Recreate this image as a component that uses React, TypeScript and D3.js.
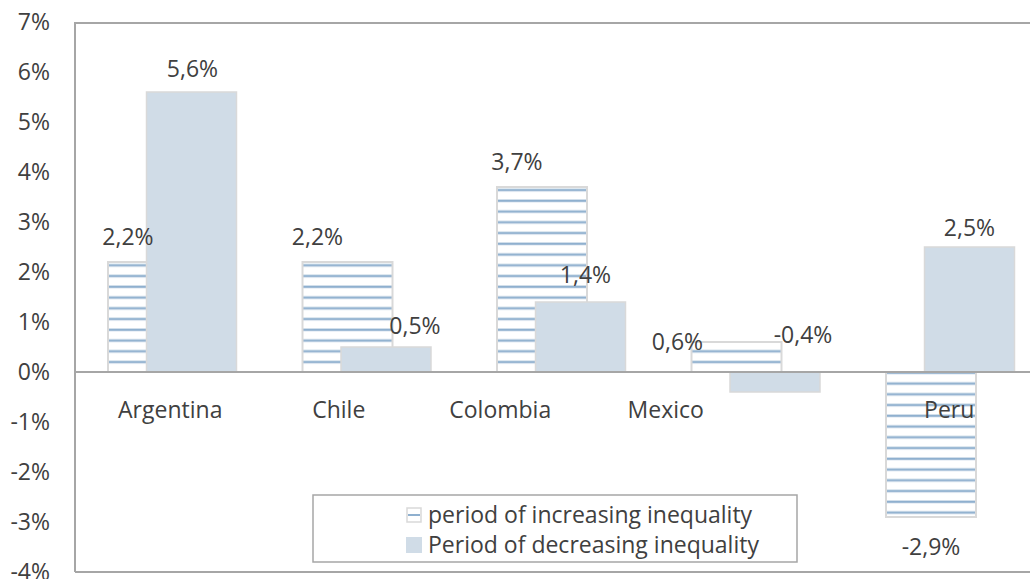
import React from "react";
import * as d3 from "d3";

const categories = ["Argentina", "Chile", "Colombia", "Mexico", "Peru"];
const increasing = [0.022, 0.022, 0.037, 0.006, -0.029];
const decreasing = [0.056, 0.005, 0.014, -0.004, 0.025];
const yTicks = [-0.04, -0.03, -0.02, -0.01, 0, 0.01, 0.02, 0.03, 0.04, 0.05, 0.06, 0.07];
const seriesNames = ["period of increasing inequality", "Period of decreasing inequality"];

// layout tweaks for manually placed labels (pixels)
const incLabelDx = [-25, -30, -25, -59, 0];
const incLabelDy = [-25, -25, -25, 0, 30];
const decLabelDx = [1, 29, 5, 28, 0];
const decLabelDy = [-23, -21, -27, -57, -19];
const catLabelDx = [-2, -28, -61, -90, -1];

const W = 1030;
const H = 579;
const left = 75;
const top = 22;
const bottom = 572;
const plotRight = 1047.5;
const FS = 23;

const fmt = (v: number) => (v * 100).toFixed(1).replace(".", ",") + "%";
const tickFmt = (v: number) => Math.round(v * 100) + "%";

const FONT = "'Open Sans', sans-serif";
const TEXT = "#404040";
const AXIS = "#a6a6a6";
const SOLID = "#d0dce7";
const BORDER = "#d9d9d9";

export default function App() {
  const y = d3.scaleLinear().domain([-0.04, 0.07]).range([bottom, top]);
  const x = d3.scaleBand<string>().domain(categories).range([left, plotRight]);
  const step = x.step();
  const barW = step * 0.4627;
  const shift = step * 0.198;
  const center = (c: string) => (x(c) as number) + x.bandwidth() / 2;
  const incX = (c: string) => center(c) - (barW + shift) / 2;
  const decX = (c: string) => center(c) - (barW + shift) / 2 + shift;
  const y0 = y(0);

  return (
    <svg
      width={W}
      height={H}
      style={{ position: "absolute", left: 0, top: 0, background: "#fff" }}
      fontFamily={FONT}
    >
      <defs>
        <pattern id="stripes" patternUnits="userSpaceOnUse" x={0} y={263.5} width={20} height={10.75}>
          <rect x={0} y={0} width={20} height={10.75} fill="#ffffff" />
          <rect x={0} y={0.3} width={20} height={3} fill="#c9d8e7" />
          <rect x={0} y={0.9} width={20} height={1.8} fill="#8fb0cf" />
        </pattern>
      </defs>

      {/* frame */}
      <line x1={left} x2={W} y1={top + 1} y2={top + 1} stroke={AXIS} strokeWidth={2} />
      <line x1={left} x2={left} y1={top} y2={bottom} stroke={AXIS} strokeWidth={2} />
      <line x1={left} x2={W} y1={bottom} y2={bottom} stroke={AXIS} strokeWidth={2} />

      {/* y tick labels */}
      {yTicks.map((t) => (
        <text
          key={t}
          x={50}
          y={y(t)}
          dy="0.36em"
          textAnchor="end"
          fontSize={FS}
          fill={TEXT}
        >
          {tickFmt(t)}
        </text>
      ))}

      {/* increasing (striped) bars */}
      {categories.map((c, i) => {
        const v = increasing[i];
        const y1 = Math.min(y(v), y0);
        const h = Math.abs(y(v) - y0);
        return (
          <rect
            key={"inc" + c}
            x={incX(c)}
            y={y1}
            width={barW}
            height={h}
            fill="url(#stripes)"
            stroke={BORDER}
            strokeWidth={2}
          />
        );
      })}

      {/* decreasing (solid) bars */}
      {categories.map((c, i) => {
        const v = decreasing[i];
        const y1 = Math.min(y(v), y0);
        const h = Math.abs(y(v) - y0);
        return (
          <rect
            key={"dec" + c}
            x={decX(c)}
            y={y1}
            width={barW}
            height={h}
            fill={SOLID}
            stroke={BORDER}
            strokeWidth={1.5}
          />
        );
      })}

      {/* zero line */}
      <line x1={left} x2={W} y1={y0} y2={y0} stroke={AXIS} strokeWidth={2} />

      {/* category labels */}
      {categories.map((c, i) => (
        <text
          key={"cat" + c}
          x={center(c) + catLabelDx[i]}
          y={y0 + 38}
          dy="0.36em"
          textAnchor="middle"
          fontSize={FS}
          fill={TEXT}
        >
          {c}
        </text>
      ))}

      {/* data labels */}
      {categories.map((c, i) => (
        <text
          key={"il" + c}
          x={incX(c) + barW / 2 + incLabelDx[i]}
          y={y(increasing[i]) + incLabelDy[i]}
          dy="0.36em"
          textAnchor="middle"
          fontSize={FS}
          fill={TEXT}
        >
          {fmt(increasing[i])}
        </text>
      ))}
      {categories.map((c, i) => (
        <text
          key={"dl" + c}
          x={decX(c) + barW / 2 + decLabelDx[i]}
          y={y(decreasing[i]) + decLabelDy[i]}
          dy="0.36em"
          textAnchor="middle"
          fontSize={FS}
          fill={TEXT}
        >
          {fmt(decreasing[i])}
        </text>
      ))}

      {/* legend */}
      <g>
        <rect x={313} y={495} width={484} height={67} fill="#fff" stroke={AXIS} strokeWidth={1.5} />
        <rect x={407} y={508} width={14} height={14} fill="#fff" stroke={BORDER} strokeWidth={1.5} />
        <rect x={408} y={514} width={12} height={2} fill="#8fb0cf" />
        <text x={428} y={515} dy="0.36em" fontSize={FS} fill={TEXT}>
          {seriesNames[0]}
        </text>
        <rect x={406} y={537} width={16} height={16} fill={SOLID} />
        <text x={428} y={545} dy="0.36em" fontSize={FS} fill={TEXT}>
          {seriesNames[1]}
        </text>
      </g>
    </svg>
  );
}
